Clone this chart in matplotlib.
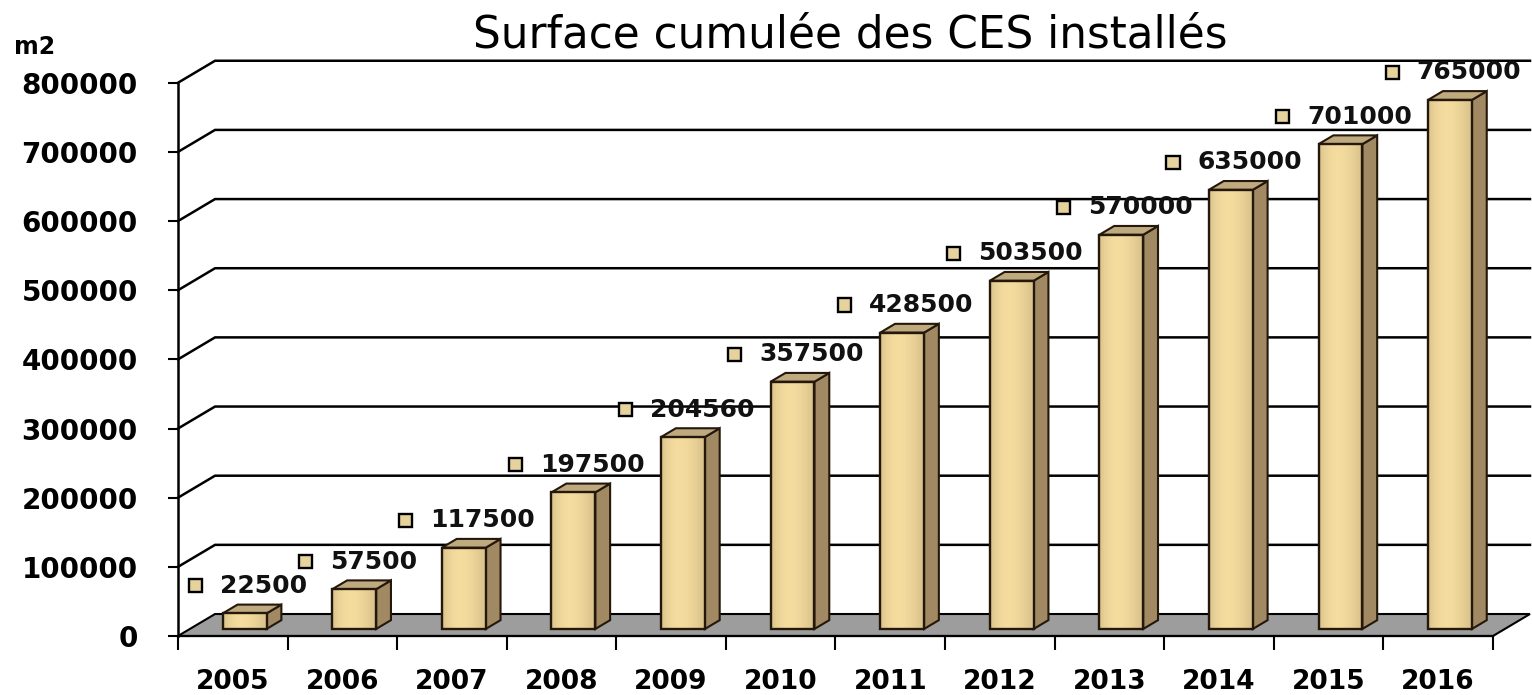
import matplotlib.pyplot as plt
import numpy as np
from matplotlib.patches import Polygon, Rectangle
from matplotlib.offsetbox import AnnotationBbox, HPacker, DrawingArea, TextArea

years = ['2005', '2006', '2007', '2008', '2009', '2010',
         '2011', '2012', '2013', '2014', '2015', '2016']
surface = [22500, 57500, 117500, 197500, 277500, 357500,
           428500, 503500, 570000, 635000, 701000, 765000]
value_labels = ['22500', '57500', '117500', '197500', '204560', '357500',
                '428500', '503500', '570000', '635000', '701000', '765000']
yticks = [0, 100000, 200000, 300000, 400000, 500000, 600000, 700000, 800000]

# fake 3d: depth offset of the floor in data units
DX = 0.338
DY = 31800
d0, d1 = 0.32, 0.72
bw = 0.40

plt.rcParams['font.family'] = ['DejaVu Sans']
plt.rcParams['font.weight'] = 'bold'

fig = plt.figure(figsize=(15.32, 6.95), dpi=100)
ax = fig.add_axes([178/1532, 59/695, 1352/1532, 574/695])

n = len(years)

# floor
floor = Polygon([(0, 0), (n, 0), (n + DX, DY), (DX, DY)], closed=True,
                fc='#9d9d9d', ec='black', lw=1.5, zorder=1, clip_on=False)
ax.add_patch(floor)

# grid lines (left wall diagonal + back wall)
for v in yticks[1:]:
    ax.plot([0, DX, n + DX], [v, v + DY, v + DY], color='black', lw=1.8,
            zorder=2, clip_on=False, solid_joinstyle='miter')

# front face texture
g = np.linspace(0, 1, 60)
shade = 0.88 + 0.12 * np.sin(np.pi * g ** 0.8)
base = np.array([0.96, 0.86, 0.62])
tex = np.clip(base[None, None, :] * shade[None, :, None], 0, 1)
tex = np.repeat(tex, 2, axis=0)

edge = '#24180b'
for i, v in enumerate(surface):
    c = i + 0.5
    xl = c - bw / 2
    xr = c + bw / 2
    fx0, fx1 = xl + d0 * DX, xr + d0 * DX
    fy0, fy1 = d0 * DY, v + d0 * DY
    bx0, bx1 = xl + d1 * DX, xr + d1 * DX
    by0, by1 = d1 * DY, v + d1 * DY
    z = 3 + i * 0.1
    side = Polygon([(fx1, fy0), (bx1, by0), (bx1, by1), (fx1, fy1)],
                   fc='#a08963', ec=edge, lw=1.5, zorder=z, clip_on=False)
    top = Polygon([(fx0, fy1), (fx1, fy1), (bx1, by1), (bx0, by1)],
                  fc='#bfa97f', ec=edge, lw=1.5, zorder=z, clip_on=False)
    ax.add_patch(side)
    ax.add_patch(top)
    ax.imshow(tex, extent=[fx0, fx1, fy0, fy1], aspect='auto',
              interpolation='bilinear', zorder=z, clip_on=False)
    ax.add_patch(Rectangle((fx0, fy0), fx1 - fx0, fy1 - fy0, fill=False,
                           ec=edge, lw=1.7, zorder=z + 0.05, clip_on=False))

# value labels with the little legend key square
for i, (v, lab) in enumerate(zip(surface, value_labels)):
    da = DrawingArea(9.5, 9.5, 0, 0)
    da.add_artist(Rectangle((0, 0), 9.5, 9.5, fc='#e6d29c', ec='black', lw=1.7))
    ta = TextArea(lab, textprops=dict(fontsize=18, fontweight='bold', color='#111111'))
    box = HPacker(children=[da, ta], align='center', pad=0, sep=13)
    ab = AnnotationBbox(box, (i + 0.5 + 0.14, v + 50000), frameon=False,
                        box_alignment=(0.5, 0.5), zorder=10, annotation_clip=False)
    ax.add_artist(ab)

ax.set_xlim(0, n + DX)
ax.set_ylim(0, 830000)

for s in ['top', 'right']:
    ax.spines[s].set_visible(False)
ax.spines['left'].set_bounds(0, 800000)
ax.spines['bottom'].set_bounds(0, n)
ax.spines['left'].set_linewidth(1.8)
ax.spines['bottom'].set_linewidth(1.6)
ax.spines['left'].set_zorder(5)

ax.set_yticks(yticks, [str(t) for t in yticks])
ax.tick_params(axis='y', length=7, width=1.5, pad=22, labelsize=20)
ax.set_xticks(np.arange(n) + 0.5, years)
ax.set_xticks(np.arange(n + 1), minor=True)
ax.tick_params(axis='x', which='major', length=0, pad=24, labelsize=19)
ax.tick_params(axis='x', which='minor', length=10, width=1.5)
ax.patch.set_visible(False)

fig.text(0.555, 1 - 35/695, 'Surface cumulée des CES installés', fontsize=31.5,
         fontweight='normal', ha='center', va='center')
fig.text(14/1532, 1 - 47/695, 'm2', fontsize=17, fontweight='bold',
         ha='left', va='center')

fig.savefig('out.png', dpi=100)
